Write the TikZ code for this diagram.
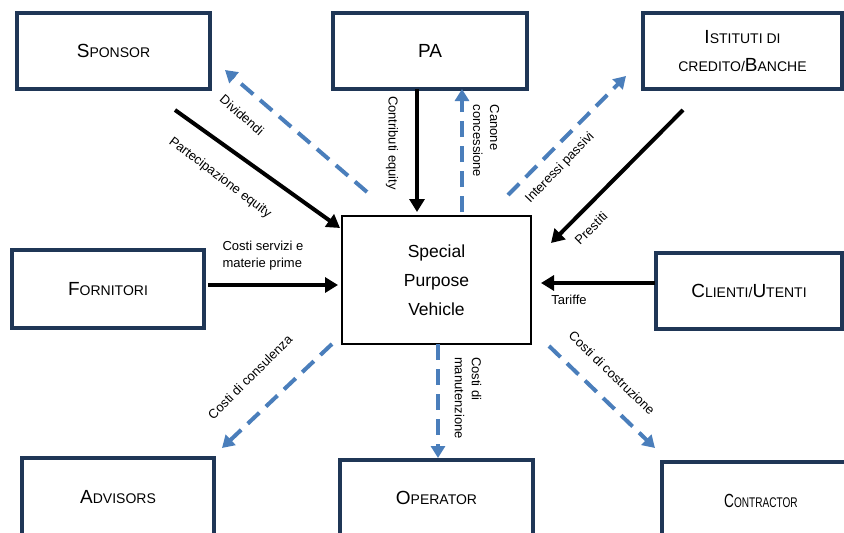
\documentclass[tikz,border=0pt]{standalone}
\usepackage{fontspec}
\usepackage{graphicx}
\setmainfont{Liberation Sans}
\usetikzlibrary{arrows.meta}
\definecolor{navy}{HTML}{1F3656}
\definecolor{flowblue}{HTML}{4A7EBB}
\newcommand\capbig[1]{{\fontsize{19}{22}\selectfont #1}}
\newcommand\capsml[1]{{\fontsize{14}{16}\selectfont #1}}
\begin{document}
\begin{tikzpicture}[x=1pt,y=-1pt,
  box/.style={draw=navy, line width=4pt, fill=white, inner sep=0pt, align=center, font=\fontsize{14}{28}\selectfont},
  spvbox/.style={draw=black, line width=1.2pt, fill=white, inner sep=0pt, align=center, font=\fontsize{17.5}{29}\selectfont},
  money/.style={draw=flowblue, line width=4pt, dash pattern=on 16pt off 9pt, -{Triangle[length=12pt,width=14pt]}},
  flow/.style={draw=black, line width=4pt, -{Triangle[length=13pt,width=15pt]}},
  lbl/.style={font=\fontsize{13}{17}\selectfont, inner sep=0pt}
]
\useasboundingbox (0,0) rectangle (844,533);
\clip (0,0) rectangle (844,533);
\fill[white] (0,0) rectangle (844,533);

% boxes
\node[box, minimum width=193pt, minimum height=76pt] (sponsor) at (113.5,51) {\capbig{S}\capsml{PONSOR}};
\node[box, minimum width=194pt, minimum height=76pt] (pa) at (430,51) {\capbig{PA}};
\node[box, minimum width=199pt, minimum height=76pt] (banche) at (742.5,51) {\capbig{I}\capsml{STITUTI DI}\\\capsml{CREDITO/}\capbig{B}\capsml{ANCHE}};
\node[box, minimum width=192pt, minimum height=78pt] (fornitori) at (108,289) {\capbig{F}\capsml{ORNITORI}};
\node[spvbox, minimum width=189pt, minimum height=128pt] (spv) at (436.5,280) {Special\\Purpose\\Vehicle};
\node[box, minimum width=186pt, minimum height=76pt] (clienti) at (749,291) {\capbig{C}\capsml{LIENTI/}\capbig{U}\capsml{TENTI}};
\node[box, minimum width=192pt, minimum height=78pt] (advisors) at (118,497) {\capbig{A}\capsml{DVISORS}};
\node[box, minimum width=193pt, minimum height=76pt] (operator) at (436.5,498) {\capbig{O}\capsml{PERATOR}};
\node[box, minimum width=198pt, minimum height=78pt] (contractor) at (761,501) {\scalebox{0.72}[1]{\capbig{C}\capsml{ONTRACTOR}}};

% connector end points
\coordinate (divA) at (367,192);   \coordinate (divB) at (225,70);
\coordinate (parA) at (175,110);   \coordinate (parB) at (340,228);
\coordinate (conA) at (417,89);    \coordinate (conB) at (417,212);
\coordinate (canA) at (462,212);   \coordinate (canB) at (462,89);
\coordinate (intA) at (508,195);   \coordinate (intB) at (626,76);
\coordinate (preA) at (683,110);   \coordinate (preB) at (551,243);
\coordinate (serA) at (208,285);   \coordinate (serB) at (338,285);
\coordinate (tarA) at (655,283);   \coordinate (tarB) at (541,283);
\coordinate (cnsA) at (332,344);   \coordinate (cnsB) at (222,448);
\coordinate (manA) at (438,344);   \coordinate (manB) at (438,458);
\coordinate (cstA) at (549,346);   \coordinate (cstB) at (655,448);

% connectors
\draw[money] (divA) -- (divB);
\draw[flow]  (parA) -- (parB);
\draw[flow]  (conA) -- (conB);
\draw[money] (canA) -- (canB);
\draw[money] (intA) -- (intB);
\draw[flow]  (preA) -- (preB);
\draw[flow]  (serA) -- (serB);
\draw[flow]  (tarA) -- (tarB);
\draw[money] (cnsA) -- (cnsB);
\draw[money] (manA) -- (manB);
\draw[money] (cstA) -- (cstB);

% labels
\node[lbl, rotate=-41] (ldiv) at (242,115) {Dividendi};
\node[lbl, rotate=-37] (lpar) at (220,178) {Partecipazione equity};
\node[lbl, rotate=-90] (lcon) at (392,143) {Contributi equity};
\node[lbl, rotate=-90, align=left] (lcan) at (486,141) {Canone\\concessione};
\node[lbl, rotate=46] (lint) at (560,168) {Interessi passivi};
\node[lbl, rotate=45] (lpre) at (591,228) {Prestiti};
\node[lbl, align=left] (lser) at (263,256) {Costi servizi e\\materie prime};
\node[lbl] (ltar) at (569,300) {Tariffe};
\node[lbl, rotate=45] (lcns) at (250,377) {Costi di consulenza};
\node[lbl, rotate=-90, align=left] (lman) at (468,398) {Costi di\\manutenzione};
\node[lbl, rotate=-44] (lcst) at (612,373) {Costi di costruzione};
\end{tikzpicture}
\end{document}
